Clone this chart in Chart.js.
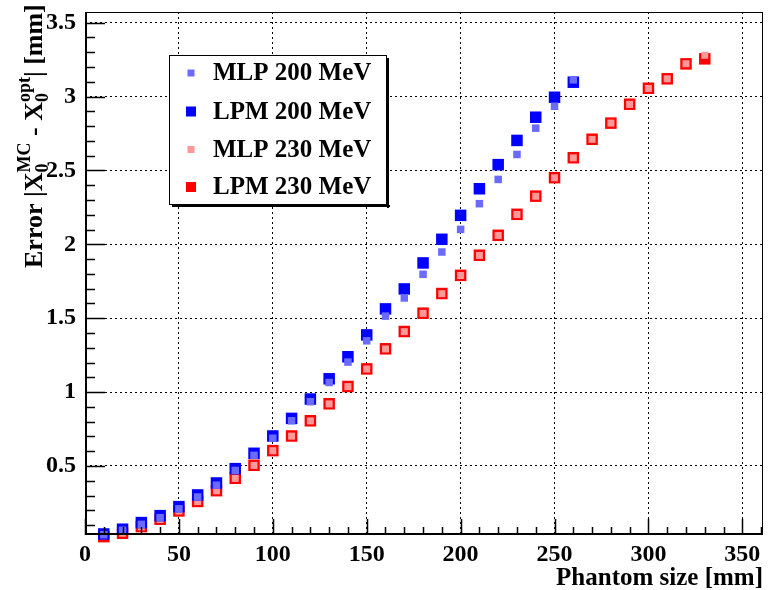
<!DOCTYPE html>
<html>
<head>
<meta charset="utf-8">
<script src="https://cdn.jsdelivr.net/npm/chart.js@4.4.1/dist/chart.umd.min.js"></script>
<style>
  html, body { margin: 0; padding: 0; background: #fff; }
  #wrap { width: 769px; height: 590px; }
</style>
</head>
<body>
<div id="wrap"><canvas id="chart" width="769" height="590"></canvas></div>
<script>
// Phantom sizes [mm]
const sizes200 = [10, 20, 30, 40, 50, 60, 70, 80, 90, 100, 110, 120, 130, 140, 150, 160, 170, 180, 190, 200, 210, 220, 230, 240, 250, 260];
const sizes230 = [10, 20, 30, 40, 50, 60, 70, 80, 90, 100, 110, 120, 130, 140, 150, 160, 170, 180, 190, 200, 210, 220, 230, 240, 250, 260, 270, 280, 290, 300, 310, 320, 330];

// Error values [mm]
const mlp200 = [0.035, 0.065, 0.105, 0.15, 0.21, 0.29, 0.37, 0.47, 0.572, 0.688, 0.806, 0.935, 1.065, 1.203, 1.347, 1.514, 1.637, 1.797, 1.948, 2.101, 2.275, 2.439, 2.608, 2.786, 2.934, 3.113];
const lpm200 = [0.04, 0.072, 0.117, 0.164, 0.225, 0.304, 0.385, 0.482, 0.586, 0.703, 0.822, 0.953, 1.09, 1.239, 1.387, 1.563, 1.698, 1.874, 2.034, 2.196, 2.376, 2.539, 2.703, 2.86, 2.995, 3.097];
const mlp230 = [0.025, 0.045, 0.088, 0.138, 0.195, 0.259, 0.332, 0.416, 0.504, 0.603, 0.702, 0.805, 0.92, 1.037, 1.156, 1.292, 1.409, 1.533, 1.666, 1.789, 1.925, 2.06, 2.202, 2.325, 2.45, 2.585, 2.71, 2.82, 2.947, 3.055, 3.12, 3.222, 3.279];
const lpm230 = [0.022, 0.045, 0.09, 0.14, 0.196, 0.26, 0.333, 0.417, 0.505, 0.604, 0.703, 0.806, 0.921, 1.038, 1.157, 1.293, 1.41, 1.534, 1.667, 1.79, 1.926, 2.061, 2.203, 2.326, 2.451, 2.586, 2.711, 2.82, 2.948, 3.056, 3.12, 3.221, 3.255];

const seriesLabels = ['MLP 200 MeV', 'LPM 200 MeV', 'MLP 230 MeV', 'LPM 230 MeV'];

const xTicks = [0, 50, 100, 150, 200, 250, 300, 350];
const yTicks = [0.5, 1, 1.5, 2, 2.5, 3, 3.5];
const xMinorStep = 10;
const yMinorStep = 0.1;

const FONT = '"Liberation Serif", "Times New Roman", serif';

function toPoints(xs, ys) {
    return xs.map((x, i) => ({ x: x, y: ys[i] }));
}

// marker look: fill colour and side in px
const markers = [
    { color: '#6a6aff', side: 7.5 },
    { color: '#0000ff', side: 11.5 },
    { color: '#ff9999', side: 7 },
    { color: '#ff0000', side: 11.5 }
];

// ROOT style frame, inward ticks, legend and axis titles
const rootStyle = {
    id: 'rootStyle',
    afterDraw(chart) {
        const ctx = chart.ctx;
        const a = chart.chartArea;
        const xs = chart.scales.x, ys = chart.scales.y;
        ctx.save();
        ctx.strokeStyle = '#000';

        // frame
        ctx.lineWidth = 1;
        ctx.strokeRect(a.left + 0.5, a.top + 0.5, a.right - a.left - 1, a.bottom - a.top - 1);
        ctx.lineWidth = 2;
        ctx.beginPath();
        ctx.moveTo(a.left + 1, a.top);
        ctx.lineTo(a.left + 1, a.bottom);
        ctx.moveTo(a.left, a.bottom - 1);
        ctx.lineTo(a.right, a.bottom - 1);
        ctx.stroke();

        // ticks
        ctx.lineWidth = 1.5;
        ctx.beginPath();
        for (let v = 0; v <= xs.max + 1e-9; v += xMinorStep) {
            const px = Math.round(xs.getPixelForValue(v)) + 0.5;
            const len = (Math.round(v) % 50 === 0) ? 16 : 8;
            ctx.moveTo(px, a.bottom);
            ctx.lineTo(px, a.bottom - len);
        }
        for (let i = 0; i * yMinorStep <= ys.max; i++) {
            const v = i * yMinorStep;
            if (v < ys.min) continue;
            const py = Math.round(ys.getPixelForValue(v)) + 0.5;
            const len = (i % 5 === 0) ? 20 : 10;
            ctx.moveTo(a.left, py);
            ctx.lineTo(a.left + len, py);
        }
        ctx.stroke();

        // legend box with shadow
        const lx = 169, ly = 55, lw = 218, lh = 150;
        ctx.fillStyle = '#fff';
        ctx.fillRect(lx, ly, lw, lh);
        ctx.fillStyle = '#000';
        ctx.fillRect(lx + lw, ly + 3, 2, lh);
        ctx.fillRect(lx + 3, ly + lh, lw, 2);
        ctx.lineWidth = 1;
        ctx.strokeRect(lx + 0.5, ly + 0.5, lw - 1, lh - 1);
        const rows = [73, 111.5, 149.5, 187];
        ctx.font = 'bold 25px ' + FONT;
        ctx.textBaseline = 'middle';
        ctx.textAlign = 'left';
        seriesLabels.forEach((lab, i) => {
            const m = markers[i];
            const s = i % 2 === 0 ? 7 : 10;
            ctx.fillStyle = m.color;
            ctx.fillRect(191 - s / 2, rows[i] - s / 2, s, s);
            ctx.fillStyle = '#000';
            ctx.fillText(lab, 213, rows[i] + 1);
        });

        // x title
        ctx.textBaseline = 'alphabetic';
        ctx.textAlign = 'right';
        ctx.font = 'bold 25px ' + FONT;
        ctx.fillText('Phantom size [mm]', a.right, 585);

        // y title: Error |X_0^MC - X_0^opt| [mm]
        const big = 'bold 26px ' + FONT, small = 'bold 18px ' + FONT;
        const parts = [
            [{ t: 'Error |X', f: big, dy: 0 }],
            [{ t: '0', f: small, dy: 6 }, { t: 'MC', f: small, dy: -12 }],
            [{ t: ' - X', f: big, dy: 0 }],
            [{ t: '0', f: small, dy: 6 }, { t: 'opt', f: small, dy: -12 }],
            [{ t: '| [mm]', f: big, dy: 0 }]
        ];
        ctx.translate(42, 268);
        ctx.rotate(-Math.PI / 2);
        ctx.textAlign = 'left';
        let cx = 0;
        parts.forEach(group => {
            let w = 0;
            group.forEach(p => {
                ctx.font = p.f;
                ctx.fillText(p.t, cx, p.dy);
                w = Math.max(w, ctx.measureText(p.t).width);
            });
            cx += w;
        });
        ctx.restore();
    }
};

const ctx = document.getElementById('chart').getContext('2d');
const allSeries = [
    toPoints(sizes200, mlp200),
    toPoints(sizes200, lpm200),
    toPoints(sizes230, mlp230),
    toPoints(sizes230, lpm230)
];

new Chart(ctx, {
    type: 'scatter',
    data: {
        datasets: allSeries.map((pts, i) => ({
            label: seriesLabels[i],
            data: pts,
            pointStyle: 'rect',
            pointRadius: markers[i].side / Math.SQRT2,
            pointHoverRadius: markers[i].side / Math.SQRT2,
            backgroundColor: markers[i].color,
            borderColor: markers[i].color,
            borderWidth: 0,
            showLine: false,
            clip: false
        }))
    },
    options: {
        responsive: false,
        animation: false,
        devicePixelRatio: 1,
        layout: { autoPadding: false, padding: { top: 12, right: 6, left: 0, bottom: 0 } },
        plugins: {
            legend: { display: false },
            tooltip: { enabled: false }
        },
        scales: {
            x: {
                type: 'linear',
                min: 0,
                max: 361,
                afterFit(scale) {
                    scale.height = 55;
                    scale.paddingLeft = 0;
                    scale.paddingRight = 0;
                },
                afterBuildTicks(scale) { scale.ticks = xTicks.map(v => ({ value: v })); },
                grid: { display: true, drawTicks: false, color: '#000', lineWidth: 1 },
                border: { display: false, dash: [2, 3] },
                ticks: {
                    color: '#000',
                    padding: 5,
                    maxRotation: 0,
                    font: { family: FONT, size: 24, weight: 'bold' },
                    callback: v => String(v)
                }
            },
            y: {
                type: 'linear',
                min: 0.033,
                max: 3.572,
                afterFit(scale) {
                    scale.width = 85;
                    scale.paddingTop = 0;
                    scale.paddingBottom = 0;
                },
                afterBuildTicks(scale) { scale.ticks = yTicks.map(v => ({ value: v })); },
                grid: { display: true, drawTicks: false, color: '#000', lineWidth: 1 },
                border: { display: false, dash: [2, 3] },
                ticks: {
                    color: '#000',
                    padding: 9,
                    font: { family: FONT, size: 24, weight: 'bold' },
                    callback: v => String(v)
                }
            }
        }
    },
    plugins: [rootStyle]
});
</script>
</body>
</html>
